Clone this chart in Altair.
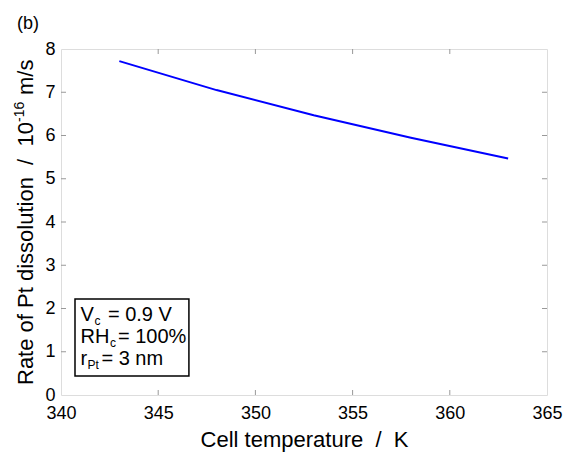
import altair as alt
import pandas as pd

# ---- data ----
temperature = [343, 348, 353, 358, 363]
rate = [7.72, 7.05, 6.47, 5.95, 5.47]

x_ticks = [340, 345, 350, 355, 360, 365]
y_ticks = [0, 1, 2, 3, 4, 5, 6, 7, 8]

W, H = 486, 346
FONT = "Liberation Sans"
FRAME = "#999999"
NB = "\u00a0"

df = pd.DataFrame({"T": temperature, "rate": rate})
xs = alt.Scale(domain=[340, 365], nice=False, zero=False)
ys = alt.Scale(domain=[0, 8], nice=False)

line = alt.Chart(df).mark_line(color="#0000ff", strokeWidth=2).encode(
    x=alt.X("T:Q", scale=xs,
            axis=alt.Axis(values=x_ticks, title=f"Cell temperature{NB}{NB}/{NB}{NB}K", tickSize=0,
                          domain=False, grid=False, labelFontSize=18, labelFont=FONT,
                          labelColor="black", labelPadding=9, titleFontSize=22, titleFont=FONT,
                          titleFontWeight="normal", titleColor="black", titlePadding=7,
                          labelFlush=False)),
    y=alt.Y("rate:Q", scale=ys,
            axis=alt.Axis(values=y_ticks, title=None, tickSize=0, domain=False, grid=False,
                          labelFontSize=18, labelFont=FONT, labelColor="black", labelPadding=6,
                          labelFlush=False)),
)

xt = pd.DataFrame({"v": x_ticks[1:-1]})
yt = pd.DataFrame({"v": y_ticks[1:-1]})
TL = 5
ticks = [
    alt.Chart(xt).mark_rule(color=FRAME, strokeWidth=1).encode(
        x=alt.X("v:Q", scale=xs), y=alt.value(H), y2=alt.value(H - TL)),
    alt.Chart(xt).mark_rule(color=FRAME, strokeWidth=1).encode(
        x=alt.X("v:Q", scale=xs), y=alt.value(0), y2=alt.value(TL)),
    alt.Chart(yt).mark_rule(color=FRAME, strokeWidth=1).encode(
        y=alt.Y("v:Q", scale=ys), x=alt.value(0), x2=alt.value(TL)),
    alt.Chart(yt).mark_rule(color=FRAME, strokeWidth=1).encode(
        y=alt.Y("v:Q", scale=ys), x=alt.value(W), x2=alt.value(W - TL)),
]

# ---- legend box (data coordinates) ----
box = pd.DataFrame({"x1": [340.72], "x2": [346.58], "y1": [0.44], "y2": [2.22]})
rect = alt.Chart(box).mark_rect(fill="white", stroke="black", strokeWidth=1.5).encode(
    x=alt.X("x1:Q", scale=xs), x2="x2:Q", y=alt.Y("y1:Q", scale=ys), y2="y2:Q")

def txt(text, x, y, size, dx=0, dy=0):
    d = pd.DataFrame({"x": [x], "y": [y], "t": [text]})
    return alt.Chart(d).mark_text(align="left", baseline="alphabetic", font=FONT, fontSize=size,
                                  color="black", dx=dx, dy=dy).encode(
        x=alt.X("x:Q", scale=xs), y=alt.Y("y:Q", scale=ys), text="t:N")

LX = 341.0
rows_y = [1.711, 1.202, 0.694]
BIG, SUB = 20, 12
legend = [
    txt("V", LX, rows_y[0], BIG),
    txt("c", LX, rows_y[0], SUB, dx=14, dy=4),
    txt("= 0.9 V", LX, rows_y[0], BIG, dx=27.5),
    txt("RH", LX, rows_y[1], BIG),
    txt("c", LX, rows_y[1], SUB, dx=29.5, dy=4),
    txt("= 100%", LX, rows_y[1], BIG, dx=37.5),
    txt("r", LX, rows_y[2], BIG),
    txt("Pt", LX, rows_y[2], SUB, dx=7, dy=4),
    txt("= 3 nm", LX, rows_y[2], BIG, dx=21),
]

# ---- rotated y title ----
def vtxt(text, y, size, dx):
    d = pd.DataFrame({"t": [text]})
    return alt.Chart(d).mark_text(align="left", baseline="alphabetic", font=FONT, fontSize=size,
                                  color="black", angle=270).encode(
        x=alt.value(dx), y=alt.value(y), text="t:N")

TX = -28
Y0 = 336
MAIN_LEN = 263
SUP_LEN = 21
ytitle = [
    vtxt(f"Rate of Pt dissolution{NB}{NB}/{NB}{NB}10", Y0, 22, TX),
    vtxt("-16", Y0 - MAIN_LEN, 14, TX - 9),
    vtxt("m/s", Y0 - MAIN_LEN - SUP_LEN - 6, 22, TX),
]

label = alt.Chart(pd.DataFrame({"t": ["(b)"]})).mark_text(
    align="left", baseline="alphabetic", font=FONT, fontSize=18, color="black").encode(
    x=alt.value(-44), y=alt.value(-20), text="t:N")

chart = alt.layer(line, *ticks, rect, *legend, *ytitle, label).properties(
    width=W, height=H,
    autosize=alt.AutoSizeParams(type="none"),
    padding={"left": 61, "top": 49, "right": 17, "bottom": 60},
).configure_view(stroke=FRAME, strokeWidth=1.5).configure(background="white")

chart.save("out.html", embed_options={"renderer": "svg", "actions": False})
